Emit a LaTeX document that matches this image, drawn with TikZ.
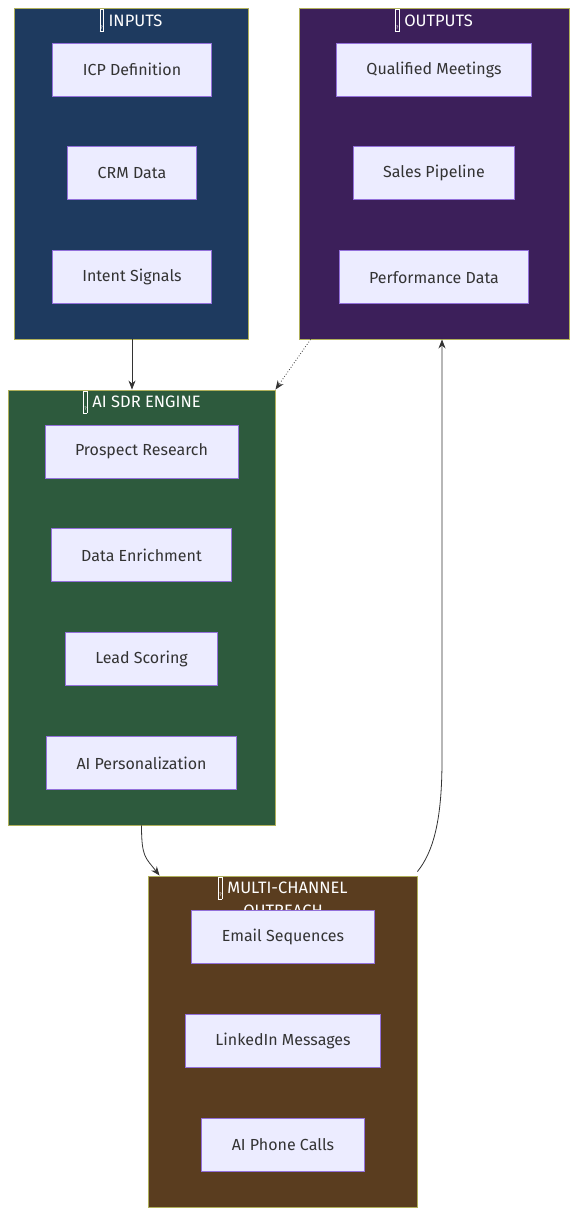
\documentclass[tikz,border=0pt]{standalone}
\usepackage{fontspec}
\setmainfont{Fira Sans}
\usetikzlibrary{positioning}
\usetikzlibrary{arrows.meta}

\definecolor{boxfill}{HTML}{ECECFF}
\definecolor{boxline}{HTML}{9370DB}
\definecolor{inkgray}{HTML}{333333}
\definecolor{clusterline}{HTML}{B0B05A}
\definecolor{inputsbg}{HTML}{1E3A5F}
\definecolor{outputsbg}{HTML}{3C1F5A}
\definecolor{enginebg}{HTML}{2D5A3D}
\definecolor{outreachbg}{HTML}{5A3D1F}

\newcommand{\tofu}{{\setlength{\fboxsep}{0.3pt}\setlength{\fboxrule}{0.6pt}\raisebox{-5pt}{\fbox{\rule{0pt}{21pt}\raisebox{2pt}{\fontsize{5}{5}\selectfont ?}}}}\hspace{5pt}}

\tikzset{
  cluster/.style={draw=clusterline, line width=0.9pt, inner sep=0pt},
  clustertitle/.style={text=white, font=\fontsize{16.5}{19}\selectfont, inner sep=0pt, anchor=base},
  stepbox/.style={draw=boxline, fill=boxfill, line width=0.9pt, text=inkgray,
    font=\fontsize{16}{19}\selectfont, minimum height=53pt, inner xsep=30pt},
  flow/.style={draw=inkgray, line width=0.8pt, -{Stealth[length=9pt,width=7pt]}}
}

\begin{document}
\begin{tikzpicture}[x=1pt,y=-1pt,node distance=50pt]
 \useasboundingbox (0,0) rectangle (577,1216);
 % clusters
 \node[cluster, fill=inputsbg, minimum width=234pt, minimum height=331pt] (inputs) at (131,173.5) {};
 \node[cluster, fill=outputsbg, minimum width=270pt, minimum height=331pt] (outputs) at (434,173.5) {};
 \node[cluster, fill=enginebg, minimum width=267pt, minimum height=435pt] (engine) at (141.5,607.5) {};
 \node[cluster, fill=outreachbg, minimum width=269pt, minimum height=331pt] (outreach) at (282.5,1041.5) {};
 \node[clustertitle] (tin) at (131,26) {\tofu INPUTS};
 \node[clustertitle] (tout) at (434,26) {\tofu OUTPUTS};
 \node[clustertitle] (teng) at (142,407.5) {\tofu AI SDR ENGINE};
 \node[clustertitle] (treach) at (283,893.5) {\tofu MULTI-CHANNEL};
 \node[clustertitle] (treach2) at (283,916.5) {OUTREACH};
 % inputs
 \node[stepbox] (icp) at (132,69.5) {ICP Definition};
 \node[stepbox, below=of icp] (crm) {CRM Data};
 \node[stepbox, below=of crm] (intent) {Intent Signals};
 % outputs
 \node[stepbox] (meet) at (434,69.5) {Qualified Meetings};
 \node[stepbox, below=of meet] (pipe) {Sales Pipeline};
 \node[stepbox, below=of pipe] (perf) {Performance Data};
 % engine
 \node[stepbox] (research) at (141.5,451.5) {Prospect Research};
 \node[stepbox, below=of research] (enrich) {Data Enrichment};
 \node[stepbox, below=of enrich] (score) {Lead Scoring};
 \node[stepbox, below=of score] (perso) {AI Personalization};
 % outreach
 \node[stepbox] (email) at (283,937) {Email Sequences};
 \node[stepbox, below=of email] (linkedin) {LinkedIn Messages};
 \node[stepbox, below=of linkedin] (phone) {AI Phone Calls};
 % connectors
 \draw[flow] ([xshift=1pt]inputs.south) -- ([xshift=1pt]inputs.south |- engine.north);
 \draw[flow, dotted] ([xshift=12pt]outputs.south west) -- (engine.north east);
 \draw[flow] (engine.south) .. controls +(0,32) and +(-14,-18) .. ([xshift=12pt]outreach.north west);
 \coordinate (bend) at (442,760);
 \draw[flow] ([yshift=4pt]outreach.north east) .. controls +(16,-20) and +(0,60) .. (bend) -- ([xshift=8pt]outputs.south);
\end{tikzpicture}
\end{document}
